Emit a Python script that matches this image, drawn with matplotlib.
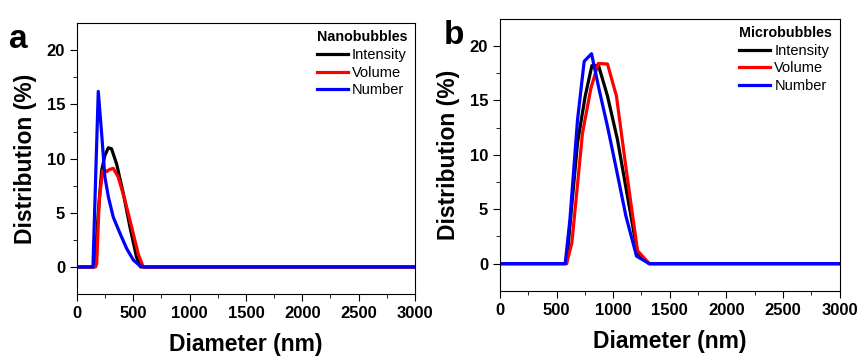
import numpy as np
import matplotlib.pyplot as plt

plt.rcParams['font.family'] = ['Liberation Sans', 'DejaVu Sans']

# panel a: nanobubbles
nano_int_x = [0, 150, 160, 189, 219, 248, 278, 307, 352, 411, 470, 529, 565, 3000]
nano_int_y = [0, 0, 0.3, 5.0, 8.9, 10.3, 11.0, 10.9, 9.5, 6.8, 3.7, 0.9, 0, 0]
nano_vol_x = [0, 165, 175, 198, 228, 245, 263, 290, 322, 366, 425, 485, 544, 588, 3000]
nano_vol_y = [0, 0, 0.3, 6.2, 8.9, 8.95, 8.8, 9.0, 9.1, 8.3, 6.2, 3.7, 1.2, 0, 0]
nano_num_x = [0, 142, 165, 189, 219, 248, 278, 322, 382, 441, 500, 559, 600, 3000]
nano_num_y = [0, 0, 8.0, 16.2, 12.3, 8.3, 6.5, 4.6, 3.1, 1.7, 0.65, 0.1, 0, 0]

# panel b: microbubbles
micro_int_x = [0, 588, 626, 685, 753, 812, 871, 950, 1038, 1126, 1215, 1318, 3000]
micro_int_y = [0, 0, 4.4, 11.1, 15.4, 18.2, 18.2, 15.4, 11.4, 6.2, 1.0, 0, 0]
micro_vol_x = [0, 588, 635, 729, 803, 868, 950, 1029, 1112, 1215, 1318, 3000]
micro_vol_y = [0, 0, 1.9, 12.0, 16.1, 18.4, 18.35, 15.4, 8.9, 1.2, 0, 0]
micro_num_x = [0, 576, 618, 685, 744, 809, 876, 950, 1024, 1112, 1206, 1318, 3000]
micro_num_y = [0, 0, 4.06, 13.2, 18.6, 19.3, 16.0, 12.6, 8.9, 4.4, 0.7, 0, 0]

labels = ['Intensity', 'Volume', 'Number']
colors = ['black', 'red', 'blue']

fig = plt.figure(figsize=(8.62, 3.56), dpi=100)
ax1 = fig.add_axes([0.0893, 0.174, 0.392, 0.761])
ax2 = fig.add_axes([0.580, 0.183, 0.394, 0.764])

panels = [
    (ax1, 'Nanobubbles', 'a', -0.20,
     [(nano_int_x, nano_int_y), (nano_vol_x, nano_vol_y), (nano_num_x, nano_num_y)]),
    (ax2, 'Microbubbles', 'b', -0.165,
     [(micro_int_x, micro_int_y), (micro_vol_x, micro_vol_y), (micro_num_x, micro_num_y)]),
]

for ax, title, letter, lx, series in panels:
    for (x, y), lab, c in zip(series, labels, colors):
        ax.plot(x, y, color=c, lw=2.3, label=lab)
    ax.set_xlim(0, 3000)
    ax.set_ylim(-2.5, 22.5)
    ax.set_xticks(np.arange(0, 3001, 500))
    ax.set_xticks(np.arange(250, 3000, 500), minor=True)
    ax.set_yticks([0, 5, 10, 15, 20])
    ax.set_yticks([2.5, 7.5, 12.5, 17.5], minor=True)
    ax.tick_params(which='both', direction='out', top=False, right=False, labelsize=12)
    ax.tick_params(which='major', length=5)
    ax.tick_params(which='minor', length=3)
    for t in ax.get_xticklabels() + ax.get_yticklabels():
        t.set_fontweight('bold')
    ax.set_xlabel('Diameter (nm)', fontsize=16.5, fontweight='bold', labelpad=9)
    ax.set_ylabel('Distribution (%)', fontsize=16.5, fontweight='bold', labelpad=7)
    leg = ax.legend(loc='upper right', frameon=False, title=title, fontsize=10.5,
                    handlelength=2.1, borderaxespad=0.2, labelspacing=0.25,
                    handletextpad=0.3, borderpad=0.3)
    leg.get_title().set_fontweight('bold')
    leg.get_title().set_fontsize(10.3)
    leg._legend_box.align = 'left'
    ax.text(lx, 0.94, letter, transform=ax.transAxes, fontsize=24,
            fontweight='bold', ha='left', va='center')

fig.savefig('out.png', dpi=100)
